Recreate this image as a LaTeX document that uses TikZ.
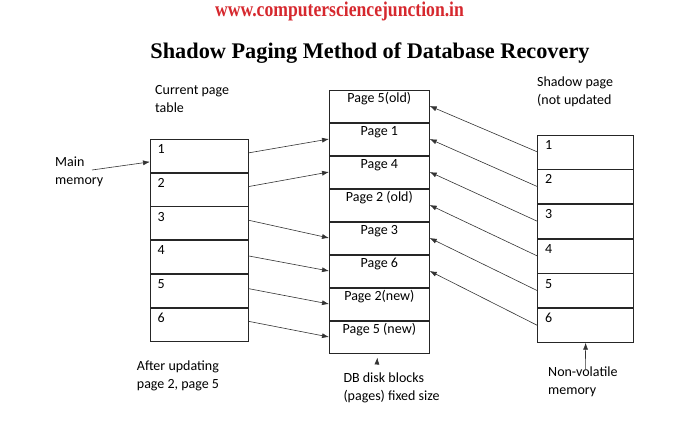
\documentclass[tikz,border=0pt]{standalone}
\usepackage{fontspec}
\setmainfont{Carlito}
\newfontfamily\titlefont{Liberation Serif}
\usetikzlibrary{positioning}
\usetikzlibrary{arrows.meta}
\definecolor{urlred}{RGB}{214,40,46}
\tikzset{
  pcell/.style={rectangle,draw=black!85,line width=0.7pt,inner sep=0pt,minimum width=98pt,minimum height=33pt},
  scell/.style={pcell,minimum width=96pt,minimum height=34pt},
  dcell/.style={pcell,minimum width=100pt,minimum height=32.3pt},
  num/.style={anchor=north west,inner xsep=7.5pt,inner ysep=5.5pt,text height=9pt,font=\fontsize{14}{18}\selectfont},
  ptext/.style={anchor=north,inner xsep=0pt,inner ysep=4pt,text height=9pt,font=\fontsize{14}{18}\selectfont},
  txt/.style={font=\fontsize{14}{18}\selectfont,align=left,inner sep=0pt,anchor=base west},
  conn/.style={draw=black!80,line width=0.6pt,-{Latex[length=7pt,width=5pt]}}
}

\begin{document}
\begin{tikzpicture}[x=1pt,y=-1pt]
\useasboundingbox (0,0) rectangle (700,420);

\node[font=\titlefont\bfseries\fontsize{21}{24}\selectfont,text=urlred,inner sep=0pt,anchor=base] (url) at (339.5,16.7) {\scalebox{0.84}[1]{www.computersciencejunction.in}};
\node[font=\titlefont\bfseries\fontsize{22.3}{26}\selectfont,inner sep=0pt,anchor=base] (title) at (370,58.3) {Shadow Paging Method of Database Recovery};

% current page table
\node[pcell,anchor=north west,label={[num]north west:1}] (c1) at (150,139) {};
\node[pcell,below=0pt of c1,label={[num]north west:2}] (c2) {};
\node[pcell,below=0pt of c2,label={[num]north west:3}] (c3) {};
\node[pcell,below=0pt of c3,label={[num]north west:4}] (c4) {};
\node[pcell,below=0pt of c4,label={[num]north west:5}] (c5) {};
\node[pcell,below=0pt of c5,label={[num]north west:6}] (c6) {};

% disk blocks
\node[dcell,anchor=north west,label={[ptext]north:Page 5(old)}] (m1) at (329,89.5) {};
\node[dcell,below=0pt of m1,label={[ptext]north:Page 1}] (m2) {};
\node[dcell,below=0pt of m2,label={[ptext]north:Page 4}] (m3) {};
\node[dcell,below=0pt of m3,label={[ptext]north:Page 2 (old)}] (m4) {};
\node[dcell,below=0pt of m4,label={[ptext]north:Page 3}] (m5) {};
\node[dcell,below=0pt of m5,label={[ptext]north:Page 6}] (m6) {};
\node[dcell,below=0pt of m6,label={[ptext]north:Page 2(new)}] (m7) {};
\node[dcell,below=0pt of m7,label={[ptext]north:Page 5 (new)}] (m8) {};

% shadow page table
\node[scell,anchor=north west,label={[num]north west:1}] (s1) at (537.3,134.5) {};
\node[scell,below=0pt of s1,label={[num]north west:2}] (s2) {};
\node[scell,below=0pt of s2,label={[num]north west:3}] (s3) {};
\node[scell,below=0pt of s3,label={[num]north west:4}] (s4) {};
\node[scell,below=0pt of s4,label={[num]north west:5}] (s5) {};
\node[scell,below=0pt of s5,label={[num]north west:6}] (s6) {};

% texts (base = last line)
\node[txt] (cptlabel) at (155,112) {Current page\\table};
\node[txt] (mmlabel) at (55,184.5) {Main\\memory};
\node[txt] (splabel) at (537,104.7) {Shadow page\\(not updated};
\node[txt] (nvlabel) at (548,394.7) {Non-volatile\\memory};
\node[txt] (aulabel) at (136.7,388.7) {After updating\\page 2, page 5};
\node[txt] (dblabel) at (343.3,400.3) {DB disk blocks\\(pages) fixed size};

\coordinate (mmtail) at (92,170);
\coordinate (nvtail) at (585.3,369);
\coordinate (dbtail) at (377,363);

\draw[conn] (mmtail) -- ([yshift=-6pt]c1.west);
\draw[conn] (nvtail) -- (s6.south);
\draw[conn] (dbtail) -- ([xshift=-2pt,yshift=-4pt]m8.south);

% current table to blocks
\draw[conn] ([yshift=3pt]c1.east) -- (m2.west);
\draw[conn] ([yshift=3pt]c2.east) -- (m3.west);
\draw[conn] ([yshift=3pt]c3.east) -- (m5.west);
\draw[conn] ([yshift=1pt]c4.east) -- (m6.west);
\draw[conn] ([yshift=2pt]c5.east) -- (m7.west);
\draw[conn] ([yshift=3pt]c6.east) -- (m8.west);

% shadow table to blocks
\draw[conn] (s1.west) -- (m1.east);
\draw[conn] (s2.west) -- (m2.east);
\draw[conn] (s3.west) -- (m3.east);
\draw[conn] (s4.west) -- (m4.east);
\draw[conn] (s5.west) -- (m5.east);
\draw[conn] (s6.west) -- (m6.east);

\end{tikzpicture}
\end{document}
